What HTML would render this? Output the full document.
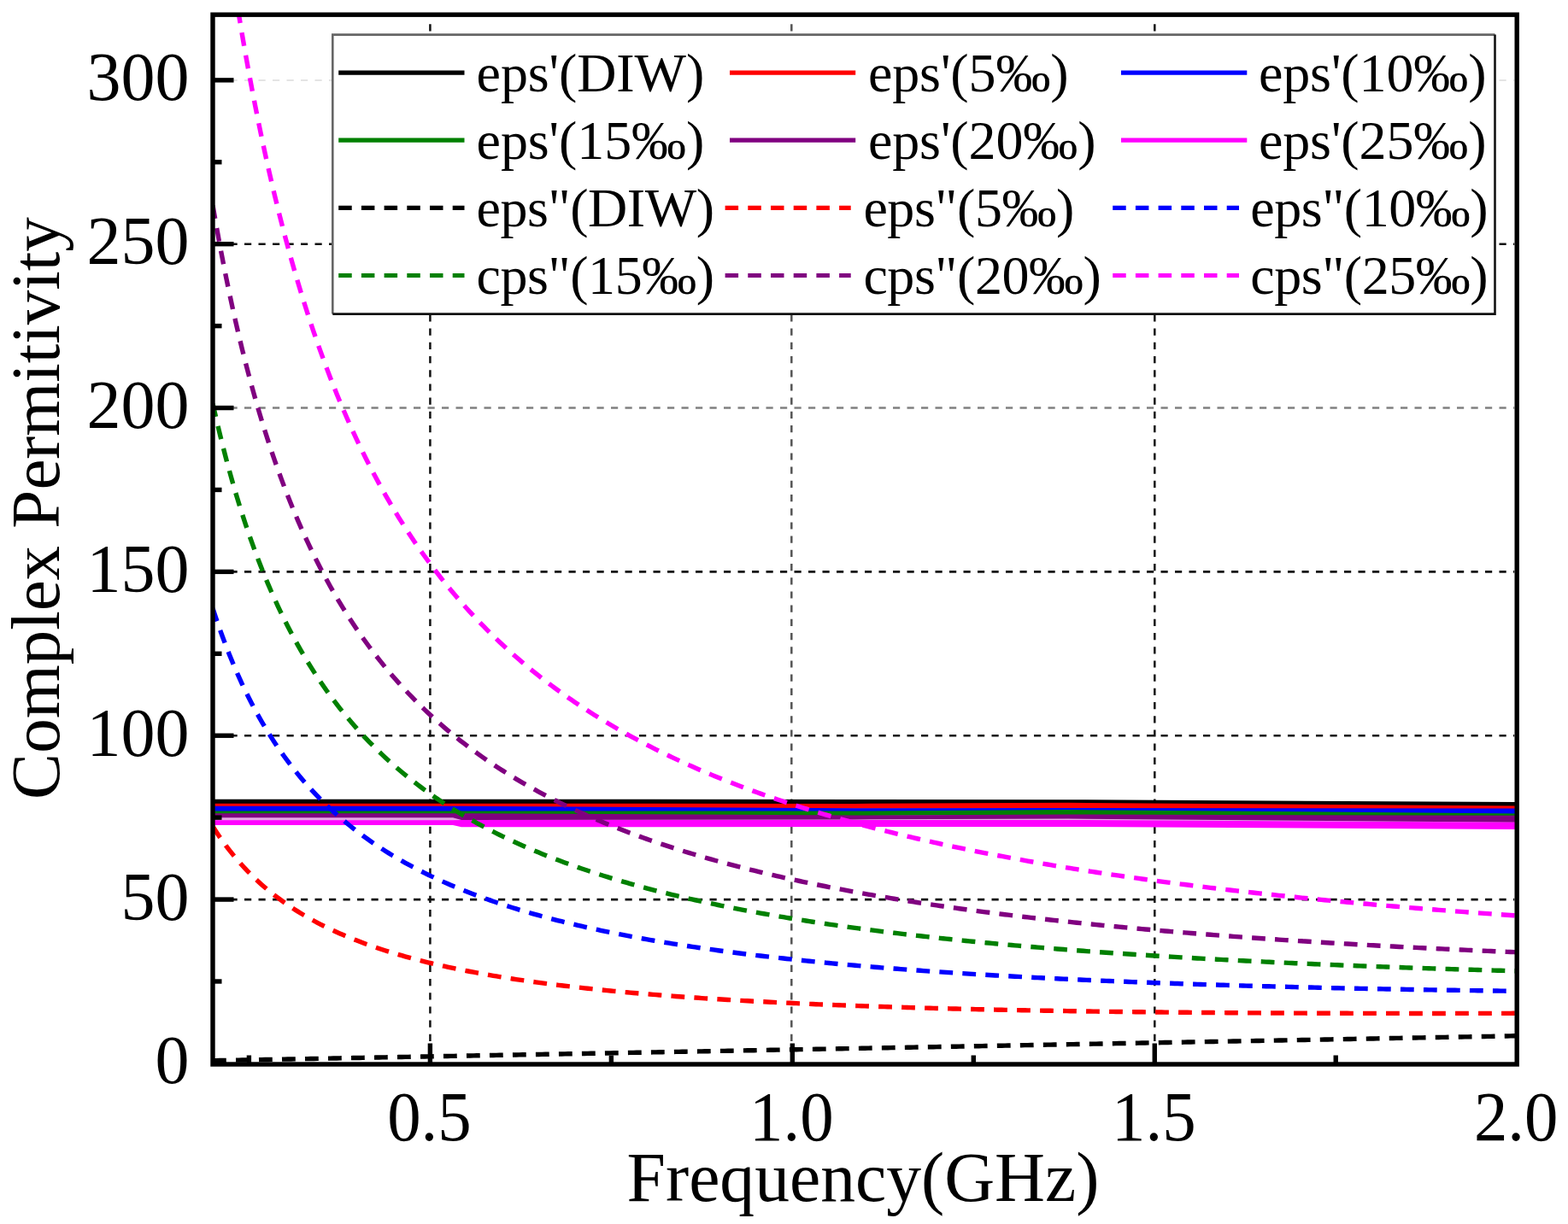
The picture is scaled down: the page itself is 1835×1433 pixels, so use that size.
<!DOCTYPE html><html><head><meta charset="utf-8"><title>Complex Permitivity</title>
<style>html,body{margin:0;padding:0;background:#fff;}svg{display:block;}text{font-family:"Liberation Serif", "Times New Roman", serif;fill:#000;}</style></head><body>
<svg width="1835" height="1433" viewBox="0 0 1835 1433">
<rect x="0" y="0" width="1835" height="1433" fill="#fff"/>
<defs><clipPath id="pc"><rect x="249.0" y="17.2" width="1526.2" height="1228.8"/></clipPath></defs>
<line x1="253.0" y1="1053.1" x2="1772.2" y2="1053.1" stroke="#111" stroke-width="2.6" stroke-dasharray="8.2 8.3"/>
<line x1="253.0" y1="861.2" x2="1772.2" y2="861.2" stroke="#111" stroke-width="2.6" stroke-dasharray="8.2 8.3"/>
<line x1="253.0" y1="669.4" x2="1772.2" y2="669.4" stroke="#111" stroke-width="2.6" stroke-dasharray="8.2 8.3"/>
<line x1="253.0" y1="477.5" x2="1772.2" y2="477.5" stroke="#808080" stroke-width="2.3" stroke-dasharray="8.2 8.3"/>
<line x1="253.0" y1="285.7" x2="1772.2" y2="285.7" stroke="#111" stroke-width="2.6" stroke-dasharray="8.2 8.3"/>
<line x1="253.0" y1="93.9" x2="1772.2" y2="93.9" stroke="#e4e4e4" stroke-width="2.0" stroke-dasharray="8.2 8.3"/>
<line x1="503.4" y1="28.2" x2="503.4" y2="1243.0" stroke="#111" stroke-width="2.5" stroke-dasharray="8.2 8.0"/>
<line x1="926.3" y1="28.2" x2="926.3" y2="1243.0" stroke="#555" stroke-width="2.5" stroke-dasharray="8.2 8.0"/>
<line x1="1351.3" y1="28.2" x2="1351.3" y2="1243.0" stroke="#111" stroke-width="2.5" stroke-dasharray="8.2 8.0"/>
<g clip-path="url(#pc)" fill="none" stroke-width="5.4">
<polygon points="249.0,935.7 530.0,935.7 540.0,935.7 1000.0,936.0 1250.0,936.2 1775.2,939.0 1775.2,944.5 1250.0,941.7 1000.0,941.5 540.0,941.2 530.0,941.2 249.0,941.2" fill="#000000" stroke="none"/>
<polygon points="249.0,940.7 530.0,940.7 540.0,940.7 1000.0,940.9 1250.0,939.8 1775.2,943.4 1775.2,948.9 1250.0,946.4 1000.0,946.7 540.0,946.2 530.0,946.2 249.0,946.2" fill="#ff0000" stroke="none"/>
<polygon points="249.0,943.7 530.0,943.7 540.0,943.7 1000.0,946.3 1250.0,946.0 1775.2,946.6 1775.2,952.9 1250.0,951.5 1000.0,951.8 540.0,950.0 530.0,950.0 249.0,950.0" fill="#0000ff" stroke="none"/>
<polygon points="249.0,949.6 530.0,949.6 540.0,949.6 1000.0,949.6 1250.0,948.0 1775.2,952.5 1775.2,958.0 1250.0,953.9 1000.0,955.1 540.0,955.1 530.0,955.1 249.0,955.1" fill="#008000" stroke="none"/>
<polygon points="249.0,954.2 530.0,954.2 540.0,954.2 1000.0,956.5 1250.0,955.5 1775.2,956.7 1775.2,964.8 1250.0,962.0 1000.0,962.0 540.0,961.9 530.0,962.3 249.0,962.3" fill="#e8a6e8" stroke="none"/>
<polygon points="249.0,952.2 530.0,952.2 540.0,952.2 1000.0,954.5 1250.0,953.5 1775.2,954.7 1775.2,962.8 1250.0,958.5 1000.0,959.4 540.0,959.9 530.0,957.3 249.0,957.3" fill="#800080" stroke="none"/>
<polygon points="249.0,960.3 530.0,960.3 540.0,959.9 1000.0,960.0 1250.0,960.0 1775.2,962.8 1775.2,970.9 1250.0,968.0 1000.0,968.1 540.0,968.2 530.0,966.0 249.0,966.0" fill="#ff00ff" stroke="none"/>
<polyline points="249.00,1241.68 252.82,1241.61 256.63,1241.54 260.45,1241.47 264.26,1241.40 268.08,1241.32 271.89,1241.25 275.71,1241.18 279.52,1241.11 283.34,1241.03 287.15,1240.96 290.97,1240.89 294.79,1240.82 298.60,1240.74 302.42,1240.67 306.23,1240.60 310.05,1240.53 313.86,1240.45 317.68,1240.38 321.49,1240.31 325.31,1240.24 329.13,1240.17 332.94,1240.09 336.76,1240.02 340.57,1239.95 344.39,1239.88 348.20,1239.80 352.02,1239.73 355.83,1239.66 359.65,1239.59 363.47,1239.51 367.28,1239.44 371.10,1239.37 374.91,1239.30 378.73,1239.23 382.54,1239.15 386.36,1239.08 390.17,1239.01 393.99,1238.94 397.80,1238.86 401.62,1238.79 405.44,1238.72 409.25,1238.65 413.07,1238.57 416.88,1238.50 420.70,1238.43 424.51,1238.36 428.33,1238.28 432.14,1238.21 435.96,1238.14 439.78,1238.07 443.59,1238.00 447.41,1237.92 451.22,1237.85 455.04,1237.78 458.85,1237.71 462.67,1237.63 466.48,1237.56 470.30,1237.49 474.11,1237.42 477.93,1237.34 481.75,1237.27 485.56,1237.20 489.38,1237.13 493.19,1237.05 497.01,1236.98 500.82,1236.91 504.64,1236.84 508.45,1236.77 512.27,1236.69 516.09,1236.62 519.90,1236.55 523.72,1236.48 527.53,1236.40 531.35,1236.33 535.16,1236.26 538.98,1236.19 542.79,1236.11 546.61,1236.04 550.42,1235.97 554.24,1235.90 558.06,1235.82 561.87,1235.75 565.69,1235.68 569.50,1235.61 573.32,1235.54 577.13,1235.46 580.95,1235.39 584.76,1235.32 588.58,1235.25 592.39,1235.17 596.21,1235.10 600.03,1235.03 603.84,1234.96 607.66,1234.88 611.47,1234.81 615.29,1234.74 619.10,1234.67 622.92,1234.60 626.73,1234.52 630.55,1234.45 634.37,1234.38 638.18,1234.31 642.00,1234.23 645.81,1234.16 649.63,1234.09 653.44,1234.02 657.26,1233.94 661.07,1233.87 664.89,1233.80 668.71,1233.73 672.52,1233.65 676.34,1233.58 680.15,1233.51 683.97,1233.44 687.78,1233.37 691.60,1233.29 695.41,1233.22 699.23,1233.15 703.04,1233.08 706.86,1233.00 710.68,1232.93 714.49,1232.86 718.31,1232.79 722.12,1232.71 725.94,1232.64 729.75,1232.57 733.57,1232.50 737.38,1232.42 741.20,1232.35 745.01,1232.28 748.83,1232.21 752.65,1232.14 756.46,1232.06 760.28,1231.99 764.09,1231.92 767.91,1231.85 771.72,1231.77 775.54,1231.70 779.35,1231.63 783.17,1231.56 786.99,1231.48 790.80,1231.41 794.62,1231.34 798.43,1231.27 802.25,1231.20 806.06,1231.12 809.88,1231.05 813.69,1230.98 817.51,1230.91 821.33,1230.83 825.14,1230.76 828.96,1230.69 832.77,1230.62 836.59,1230.54 840.40,1230.47 844.22,1230.40 848.03,1230.33 851.85,1230.25 855.66,1230.18 859.48,1230.11 863.30,1230.04 867.11,1229.97 870.93,1229.89 874.74,1229.82 878.56,1229.75 882.37,1229.68 886.19,1229.60 890.00,1229.53 893.82,1229.46 897.64,1229.39 901.45,1229.31 905.27,1229.24 909.08,1229.17 912.90,1229.10 916.71,1229.02 920.53,1228.95 924.34,1228.88 928.16,1228.81 931.97,1228.74 935.79,1228.66 939.61,1228.59 943.42,1228.52 947.24,1228.45 951.05,1228.37 954.87,1228.30 958.68,1228.23 962.50,1228.16 966.31,1228.08 970.13,1228.01 973.94,1227.94 977.76,1227.87 981.58,1227.79 985.39,1227.72 989.21,1227.65 993.02,1227.58 996.84,1227.51 1000.65,1227.43 1004.47,1227.36 1008.28,1227.29 1012.10,1227.22 1015.92,1227.14 1019.73,1227.07 1023.55,1227.00 1027.36,1226.93 1031.18,1226.85 1034.99,1226.78 1038.81,1226.71 1042.62,1226.64 1046.44,1226.57 1050.26,1226.49 1054.07,1226.42 1057.89,1226.35 1061.70,1226.28 1065.52,1226.20 1069.33,1226.13 1073.15,1226.06 1076.96,1225.99 1080.78,1225.91 1084.59,1225.84 1088.41,1225.77 1092.23,1225.70 1096.04,1225.62 1099.86,1225.55 1103.67,1225.48 1107.49,1225.41 1111.30,1225.34 1115.12,1225.26 1118.93,1225.19 1122.75,1225.12 1126.57,1225.05 1130.38,1224.97 1134.20,1224.90 1138.01,1224.83 1141.83,1224.76 1145.64,1224.68 1149.46,1224.61 1153.27,1224.54 1157.09,1224.47 1160.90,1224.39 1164.72,1224.32 1168.54,1224.25 1172.35,1224.18 1176.17,1224.11 1179.98,1224.03 1183.80,1223.96 1187.61,1223.89 1191.43,1223.82 1195.24,1223.74 1199.06,1223.67 1202.88,1223.60 1206.69,1223.53 1210.51,1223.45 1214.32,1223.38 1218.14,1223.31 1221.95,1223.24 1225.77,1223.16 1229.58,1223.09 1233.40,1223.02 1237.21,1222.95 1241.03,1222.88 1244.85,1222.80 1248.66,1222.73 1252.48,1222.66 1256.29,1222.59 1260.11,1222.51 1263.92,1222.44 1267.74,1222.37 1271.55,1222.30 1275.37,1222.22 1279.19,1222.15 1283.00,1222.08 1286.82,1222.01 1290.63,1221.94 1294.45,1221.86 1298.26,1221.79 1302.08,1221.72 1305.89,1221.65 1309.71,1221.57 1313.52,1221.50 1317.34,1221.43 1321.16,1221.36 1324.97,1221.28 1328.79,1221.21 1332.60,1221.14 1336.42,1221.07 1340.23,1220.99 1344.05,1220.92 1347.86,1220.85 1351.68,1220.78 1355.49,1220.71 1359.31,1220.63 1363.13,1220.56 1366.94,1220.49 1370.76,1220.42 1374.57,1220.34 1378.39,1220.27 1382.20,1220.20 1386.02,1220.13 1389.83,1220.05 1393.65,1219.98 1397.47,1219.91 1401.28,1219.84 1405.10,1219.76 1408.91,1219.69 1412.73,1219.62 1416.54,1219.55 1420.36,1219.48 1424.17,1219.40 1427.99,1219.33 1431.81,1219.26 1435.62,1219.19 1439.44,1219.11 1443.25,1219.04 1447.07,1218.97 1450.88,1218.90 1454.70,1218.82 1458.51,1218.75 1462.33,1218.68 1466.14,1218.61 1469.96,1218.54 1473.78,1218.46 1477.59,1218.39 1481.41,1218.32 1485.22,1218.25 1489.04,1218.17 1492.85,1218.10 1496.67,1218.03 1500.48,1217.96 1504.30,1217.88 1508.12,1217.81 1511.93,1217.74 1515.75,1217.67 1519.56,1217.59 1523.38,1217.52 1527.19,1217.45 1531.01,1217.38 1534.82,1217.31 1538.64,1217.23 1542.45,1217.16 1546.27,1217.09 1550.09,1217.02 1553.90,1216.94 1557.72,1216.87 1561.53,1216.80 1565.35,1216.73 1569.16,1216.65 1572.98,1216.58 1576.79,1216.51 1580.61,1216.44 1584.42,1216.36 1588.24,1216.29 1592.06,1216.22 1595.87,1216.15 1599.69,1216.08 1603.50,1216.00 1607.32,1215.93 1611.13,1215.86 1614.95,1215.79 1618.76,1215.71 1622.58,1215.64 1626.40,1215.57 1630.21,1215.50 1634.03,1215.42 1637.84,1215.35 1641.66,1215.28 1645.47,1215.21 1649.29,1215.13 1653.10,1215.06 1656.92,1214.99 1660.74,1214.92 1664.55,1214.85 1668.37,1214.77 1672.18,1214.70 1676.00,1214.63 1679.81,1214.56 1683.63,1214.48 1687.44,1214.41 1691.26,1214.34 1695.07,1214.27 1698.89,1214.19 1702.71,1214.12 1706.52,1214.05 1710.34,1213.98 1714.15,1213.91 1717.97,1213.83 1721.78,1213.76 1725.60,1213.69 1729.41,1213.62 1733.23,1213.54 1737.04,1213.47 1740.86,1213.40 1744.68,1213.33 1748.49,1213.25 1752.31,1213.18 1756.12,1213.11 1759.94,1213.04 1763.75,1212.96 1767.57,1212.89 1771.38,1212.82 1775.20,1212.75" stroke="#000000" stroke-dasharray="15.8 11.2"/>
<polyline points="249.00,967.45 252.82,973.42 256.63,979.13 260.45,984.59 264.26,989.82 268.08,994.84 271.89,999.66 275.71,1004.29 279.52,1008.74 283.34,1013.02 287.15,1017.14 290.97,1021.11 294.79,1024.93 298.60,1028.62 302.42,1032.19 306.23,1035.63 310.05,1038.95 313.86,1042.16 317.68,1045.27 321.49,1048.28 325.31,1051.19 329.13,1054.01 332.94,1056.74 336.76,1059.39 340.57,1061.97 344.39,1064.46 348.20,1066.88 352.02,1069.23 355.83,1071.52 359.65,1073.74 363.47,1075.90 367.28,1078.00 371.10,1080.05 374.91,1082.04 378.73,1083.97 382.54,1085.86 386.36,1087.70 390.17,1089.49 393.99,1091.23 397.80,1092.94 401.62,1094.60 405.44,1096.22 409.25,1097.80 413.07,1099.34 416.88,1100.85 420.70,1102.32 424.51,1103.75 428.33,1105.16 432.14,1106.53 435.96,1107.87 439.78,1109.18 443.59,1110.47 447.41,1111.72 451.22,1112.95 455.04,1114.15 458.85,1115.32 462.67,1116.47 466.48,1117.60 470.30,1118.70 474.11,1119.78 477.93,1120.84 481.75,1121.88 485.56,1122.90 489.38,1123.89 493.19,1124.87 497.01,1125.82 500.82,1126.76 504.64,1127.68 508.45,1128.59 512.27,1129.47 516.09,1130.34 519.90,1131.19 523.72,1132.03 527.53,1132.85 531.35,1133.66 535.16,1134.45 538.98,1135.23 542.79,1135.99 546.61,1136.74 550.42,1137.48 554.24,1138.20 558.06,1138.91 561.87,1139.61 565.69,1140.30 569.50,1140.97 573.32,1141.64 577.13,1142.29 580.95,1142.93 584.76,1143.56 588.58,1144.18 592.39,1144.79 596.21,1145.39 600.03,1145.98 603.84,1146.56 607.66,1147.13 611.47,1147.69 615.29,1148.24 619.10,1148.79 622.92,1149.32 626.73,1149.85 630.55,1150.37 634.37,1150.88 638.18,1151.38 642.00,1151.87 645.81,1152.36 649.63,1152.84 653.44,1153.31 657.26,1153.78 661.07,1154.23 664.89,1154.69 668.71,1155.13 672.52,1155.57 676.34,1156.00 680.15,1156.42 683.97,1156.84 687.78,1157.25 691.60,1157.66 695.41,1158.06 699.23,1158.46 703.04,1158.85 706.86,1159.23 710.68,1159.61 714.49,1159.98 718.31,1160.35 722.12,1160.71 725.94,1161.07 729.75,1161.42 733.57,1161.77 737.38,1162.11 741.20,1162.45 745.01,1162.78 748.83,1163.11 752.65,1163.43 756.46,1163.75 760.28,1164.06 764.09,1164.38 767.91,1164.68 771.72,1164.98 775.54,1165.28 779.35,1165.58 783.17,1165.87 786.99,1166.15 790.80,1166.44 794.62,1166.71 798.43,1166.99 802.25,1167.26 806.06,1167.53 809.88,1167.79 813.69,1168.05 817.51,1168.31 821.33,1168.57 825.14,1168.82 828.96,1169.06 832.77,1169.31 836.59,1169.55 840.40,1169.79 844.22,1170.02 848.03,1170.25 851.85,1170.48 855.66,1170.71 859.48,1170.93 863.30,1171.15 867.11,1171.37 870.93,1171.58 874.74,1171.80 878.56,1172.00 882.37,1172.21 886.19,1172.42 890.00,1172.62 893.82,1172.82 897.64,1173.01 901.45,1173.21 905.27,1173.40 909.08,1173.59 912.90,1173.77 916.71,1173.96 920.53,1174.14 924.34,1174.32 928.16,1174.50 931.97,1174.67 935.79,1174.84 939.61,1175.01 943.42,1175.18 947.24,1175.35 951.05,1175.51 954.87,1175.68 958.68,1175.84 962.50,1176.00 966.31,1176.15 970.13,1176.31 973.94,1176.46 977.76,1176.61 981.58,1176.76 985.39,1176.91 989.21,1177.05 993.02,1177.20 996.84,1177.34 1000.65,1177.48 1004.47,1177.62 1008.28,1177.75 1012.10,1177.89 1015.92,1178.02 1019.73,1178.15 1023.55,1178.28 1027.36,1178.41 1031.18,1178.54 1034.99,1178.66 1038.81,1178.78 1042.62,1178.91 1046.44,1179.03 1050.26,1179.15 1054.07,1179.26 1057.89,1179.38 1061.70,1179.49 1065.52,1179.61 1069.33,1179.72 1073.15,1179.83 1076.96,1179.94 1080.78,1180.05 1084.59,1180.15 1088.41,1180.26 1092.23,1180.36 1096.04,1180.46 1099.86,1180.56 1103.67,1180.66 1107.49,1180.76 1111.30,1180.86 1115.12,1180.96 1118.93,1181.05 1122.75,1181.14 1126.57,1181.24 1130.38,1181.33 1134.20,1181.42 1138.01,1181.51 1141.83,1181.59 1145.64,1181.68 1149.46,1181.77 1153.27,1181.85 1157.09,1181.93 1160.90,1182.02 1164.72,1182.10 1168.54,1182.18 1172.35,1182.26 1176.17,1182.33 1179.98,1182.41 1183.80,1182.49 1187.61,1182.56 1191.43,1182.64 1195.24,1182.71 1199.06,1182.78 1202.88,1182.85 1206.69,1182.92 1210.51,1182.99 1214.32,1183.06 1218.14,1183.13 1221.95,1183.19 1225.77,1183.26 1229.58,1183.32 1233.40,1183.39 1237.21,1183.45 1241.03,1183.51 1244.85,1183.57 1248.66,1183.63 1252.48,1183.69 1256.29,1183.75 1260.11,1183.81 1263.92,1183.86 1267.74,1183.92 1271.55,1183.98 1275.37,1184.03 1279.19,1184.08 1283.00,1184.14 1286.82,1184.19 1290.63,1184.24 1294.45,1184.29 1298.26,1184.34 1302.08,1184.39 1305.89,1184.44 1309.71,1184.48 1313.52,1184.53 1317.34,1184.58 1321.16,1184.62 1324.97,1184.67 1328.79,1184.71 1332.60,1184.75 1336.42,1184.80 1340.23,1184.84 1344.05,1184.88 1347.86,1184.92 1351.68,1184.96 1355.49,1185.00 1359.31,1185.04 1363.13,1185.08 1366.94,1185.11 1370.76,1185.15 1374.57,1185.19 1378.39,1185.22 1382.20,1185.26 1386.02,1185.29 1389.83,1185.32 1393.65,1185.36 1397.47,1185.39 1401.28,1185.42 1405.10,1185.45 1408.91,1185.48 1412.73,1185.51 1416.54,1185.54 1420.36,1185.57 1424.17,1185.60 1427.99,1185.63 1431.81,1185.66 1435.62,1185.68 1439.44,1185.71 1443.25,1185.73 1447.07,1185.76 1450.88,1185.78 1454.70,1185.81 1458.51,1185.83 1462.33,1185.85 1466.14,1185.88 1469.96,1185.90 1473.78,1185.92 1477.59,1185.94 1481.41,1185.96 1485.22,1185.98 1489.04,1186.00 1492.85,1186.02 1496.67,1186.04 1500.48,1186.06 1504.30,1186.07 1508.12,1186.09 1511.93,1186.11 1515.75,1186.12 1519.56,1186.14 1523.38,1186.15 1527.19,1186.17 1531.01,1186.18 1534.82,1186.20 1538.64,1186.21 1542.45,1186.22 1546.27,1186.24 1550.09,1186.25 1553.90,1186.26 1557.72,1186.27 1561.53,1186.28 1565.35,1186.29 1569.16,1186.30 1572.98,1186.31 1576.79,1186.32 1580.61,1186.33 1584.42,1186.34 1588.24,1186.35 1592.06,1186.36 1595.87,1186.36 1599.69,1186.37 1603.50,1186.38 1607.32,1186.38 1611.13,1186.39 1614.95,1186.39 1618.76,1186.40 1622.58,1186.40 1626.40,1186.41 1630.21,1186.41 1634.03,1186.41 1637.84,1186.42 1641.66,1186.42 1645.47,1186.42 1649.29,1186.43 1653.10,1186.43 1656.92,1186.43 1660.74,1186.43 1664.55,1186.43 1668.37,1186.43 1672.18,1186.43 1676.00,1186.43 1679.81,1186.43 1683.63,1186.43 1687.44,1186.43 1691.26,1186.43 1695.07,1186.42 1698.89,1186.42 1702.71,1186.42 1706.52,1186.42 1710.34,1186.41 1714.15,1186.41 1717.97,1186.41 1721.78,1186.40 1725.60,1186.40 1729.41,1186.39 1733.23,1186.39 1737.04,1186.38 1740.86,1186.38 1744.68,1186.37 1748.49,1186.36 1752.31,1186.36 1756.12,1186.35 1759.94,1186.34 1763.75,1186.34 1767.57,1186.33 1771.38,1186.32 1775.20,1186.31" stroke="#ff0000" stroke-dasharray="15.8 11.2"/>
<polyline points="249.00,712.26 252.82,723.84 256.63,734.92 260.45,745.53 264.26,755.69 268.08,765.45 271.89,774.81 275.71,783.81 279.52,792.46 283.34,800.78 287.15,808.80 290.97,816.52 294.79,823.97 298.60,831.16 302.42,838.10 306.23,844.80 310.05,851.28 313.86,857.54 317.68,863.61 321.49,869.47 325.31,875.16 329.13,880.67 332.94,886.01 336.76,891.19 340.57,896.21 344.39,901.09 348.20,905.83 352.02,910.44 355.83,914.91 359.65,919.27 363.47,923.50 367.28,927.62 371.10,931.63 374.91,935.53 378.73,939.33 382.54,943.04 386.36,946.65 390.17,950.17 393.99,953.60 397.80,956.95 401.62,960.22 405.44,963.41 409.25,966.53 413.07,969.57 416.88,972.54 420.70,975.44 424.51,978.28 428.33,981.05 432.14,983.77 435.96,986.42 439.78,989.02 443.59,991.55 447.41,994.04 451.22,996.47 455.04,998.86 458.85,1001.19 462.67,1003.47 466.48,1005.71 470.30,1007.90 474.11,1010.05 477.93,1012.16 481.75,1014.23 485.56,1016.25 489.38,1018.24 493.19,1020.19 497.01,1022.10 500.82,1023.97 504.64,1025.81 508.45,1027.62 512.27,1029.39 516.09,1031.14 519.90,1032.85 523.72,1034.53 527.53,1036.18 531.35,1037.80 535.16,1039.39 538.98,1040.95 542.79,1042.49 546.61,1044.00 550.42,1045.49 554.24,1046.95 558.06,1048.38 561.87,1049.80 565.69,1051.19 569.50,1052.55 573.32,1053.90 577.13,1055.22 580.95,1056.52 584.76,1057.80 588.58,1059.06 592.39,1060.30 596.21,1061.52 600.03,1062.73 603.84,1063.91 607.66,1065.07 611.47,1066.22 615.29,1067.35 619.10,1068.47 622.92,1069.56 626.73,1070.64 630.55,1071.71 634.37,1072.76 638.18,1073.79 642.00,1074.81 645.81,1075.81 649.63,1076.80 653.44,1077.78 657.26,1078.74 661.07,1079.69 664.89,1080.62 668.71,1081.55 672.52,1082.45 676.34,1083.35 680.15,1084.24 683.97,1085.11 687.78,1085.97 691.60,1086.82 695.41,1087.65 699.23,1088.48 703.04,1089.30 706.86,1090.10 710.68,1090.89 714.49,1091.68 718.31,1092.45 722.12,1093.21 725.94,1093.97 729.75,1094.71 733.57,1095.44 737.38,1096.17 741.20,1096.89 745.01,1097.59 748.83,1098.29 752.65,1098.98 756.46,1099.66 760.28,1100.33 764.09,1101.00 767.91,1101.65 771.72,1102.30 775.54,1102.94 779.35,1103.57 783.17,1104.19 786.99,1104.81 790.80,1105.42 794.62,1106.02 798.43,1106.62 802.25,1107.21 806.06,1107.79 809.88,1108.36 813.69,1108.93 817.51,1109.49 821.33,1110.04 825.14,1110.59 828.96,1111.13 832.77,1111.67 836.59,1112.20 840.40,1112.72 844.22,1113.24 848.03,1113.75 851.85,1114.26 855.66,1114.76 859.48,1115.25 863.30,1115.74 867.11,1116.23 870.93,1116.70 874.74,1117.18 878.56,1117.65 882.37,1118.11 886.19,1118.57 890.00,1119.02 893.82,1119.47 897.64,1119.91 901.45,1120.35 905.27,1120.78 909.08,1121.21 912.90,1121.63 916.71,1122.05 920.53,1122.47 924.34,1122.88 928.16,1123.29 931.97,1123.69 935.79,1124.09 939.61,1124.48 943.42,1124.87 947.24,1125.26 951.05,1125.64 954.87,1126.02 958.68,1126.39 962.50,1126.76 966.31,1127.13 970.13,1127.49 973.94,1127.85 977.76,1128.20 981.58,1128.55 985.39,1128.90 989.21,1129.25 993.02,1129.59 996.84,1129.93 1000.65,1130.26 1004.47,1130.59 1008.28,1130.92 1012.10,1131.24 1015.92,1131.56 1019.73,1131.88 1023.55,1132.20 1027.36,1132.51 1031.18,1132.82 1034.99,1133.12 1038.81,1133.42 1042.62,1133.72 1046.44,1134.02 1050.26,1134.31 1054.07,1134.61 1057.89,1134.89 1061.70,1135.18 1065.52,1135.46 1069.33,1135.74 1073.15,1136.02 1076.96,1136.29 1080.78,1136.57 1084.59,1136.83 1088.41,1137.10 1092.23,1137.37 1096.04,1137.63 1099.86,1137.89 1103.67,1138.14 1107.49,1138.40 1111.30,1138.65 1115.12,1138.90 1118.93,1139.14 1122.75,1139.39 1126.57,1139.63 1130.38,1139.87 1134.20,1140.11 1138.01,1140.35 1141.83,1140.58 1145.64,1140.81 1149.46,1141.04 1153.27,1141.27 1157.09,1141.49 1160.90,1141.71 1164.72,1141.94 1168.54,1142.15 1172.35,1142.37 1176.17,1142.59 1179.98,1142.80 1183.80,1143.01 1187.61,1143.22 1191.43,1143.42 1195.24,1143.63 1199.06,1143.83 1202.88,1144.03 1206.69,1144.23 1210.51,1144.43 1214.32,1144.63 1218.14,1144.82 1221.95,1145.01 1225.77,1145.20 1229.58,1145.39 1233.40,1145.58 1237.21,1145.76 1241.03,1145.95 1244.85,1146.13 1248.66,1146.31 1252.48,1146.49 1256.29,1146.67 1260.11,1146.84 1263.92,1147.01 1267.74,1147.19 1271.55,1147.36 1275.37,1147.53 1279.19,1147.69 1283.00,1147.86 1286.82,1148.03 1290.63,1148.19 1294.45,1148.35 1298.26,1148.51 1302.08,1148.67 1305.89,1148.83 1309.71,1148.98 1313.52,1149.14 1317.34,1149.29 1321.16,1149.44 1324.97,1149.59 1328.79,1149.74 1332.60,1149.89 1336.42,1150.03 1340.23,1150.18 1344.05,1150.32 1347.86,1150.47 1351.68,1150.61 1355.49,1150.75 1359.31,1150.89 1363.13,1151.02 1366.94,1151.16 1370.76,1151.29 1374.57,1151.43 1378.39,1151.56 1382.20,1151.69 1386.02,1151.82 1389.83,1151.95 1393.65,1152.08 1397.47,1152.21 1401.28,1152.33 1405.10,1152.45 1408.91,1152.58 1412.73,1152.70 1416.54,1152.82 1420.36,1152.94 1424.17,1153.06 1427.99,1153.18 1431.81,1153.29 1435.62,1153.41 1439.44,1153.52 1443.25,1153.64 1447.07,1153.75 1450.88,1153.86 1454.70,1153.97 1458.51,1154.08 1462.33,1154.19 1466.14,1154.30 1469.96,1154.40 1473.78,1154.51 1477.59,1154.62 1481.41,1154.72 1485.22,1154.82 1489.04,1154.92 1492.85,1155.02 1496.67,1155.12 1500.48,1155.22 1504.30,1155.32 1508.12,1155.42 1511.93,1155.51 1515.75,1155.61 1519.56,1155.70 1523.38,1155.80 1527.19,1155.89 1531.01,1155.98 1534.82,1156.07 1538.64,1156.16 1542.45,1156.25 1546.27,1156.34 1550.09,1156.43 1553.90,1156.52 1557.72,1156.60 1561.53,1156.69 1565.35,1156.77 1569.16,1156.86 1572.98,1156.94 1576.79,1157.02 1580.61,1157.10 1584.42,1157.18 1588.24,1157.26 1592.06,1157.34 1595.87,1157.42 1599.69,1157.50 1603.50,1157.57 1607.32,1157.65 1611.13,1157.72 1614.95,1157.80 1618.76,1157.87 1622.58,1157.95 1626.40,1158.02 1630.21,1158.09 1634.03,1158.16 1637.84,1158.23 1641.66,1158.30 1645.47,1158.37 1649.29,1158.44 1653.10,1158.51 1656.92,1158.57 1660.74,1158.64 1664.55,1158.70 1668.37,1158.77 1672.18,1158.83 1676.00,1158.90 1679.81,1158.96 1683.63,1159.02 1687.44,1159.08 1691.26,1159.14 1695.07,1159.20 1698.89,1159.26 1702.71,1159.32 1706.52,1159.38 1710.34,1159.44 1714.15,1159.50 1717.97,1159.55 1721.78,1159.61 1725.60,1159.67 1729.41,1159.72 1733.23,1159.78 1737.04,1159.83 1740.86,1159.88 1744.68,1159.94 1748.49,1159.99 1752.31,1160.04 1756.12,1160.09 1759.94,1160.14 1763.75,1160.19 1767.57,1160.24 1771.38,1160.29 1775.20,1160.34" stroke="#0000ff" stroke-dasharray="15.8 11.2"/>
<polyline points="249.00,472.51 252.82,489.36 256.63,505.49 260.45,520.94 264.26,535.74 268.08,549.95 271.89,563.59 275.71,576.69 279.52,589.29 283.34,601.42 287.15,613.10 290.97,624.36 294.79,635.21 298.60,645.69 302.42,655.80 306.23,665.57 310.05,675.02 313.86,684.15 317.68,692.99 321.49,701.55 325.31,709.85 329.13,717.88 332.94,725.67 336.76,733.23 340.57,740.57 344.39,747.69 348.20,754.61 352.02,761.34 355.83,767.87 359.65,774.23 363.47,780.41 367.28,786.43 371.10,792.29 374.91,797.99 378.73,803.55 382.54,808.97 386.36,814.25 390.17,819.39 393.99,824.42 397.80,829.32 401.62,834.10 405.44,838.77 409.25,843.32 413.07,847.78 416.88,852.13 420.70,856.38 424.51,860.54 428.33,864.60 432.14,868.57 435.96,872.46 439.78,876.27 443.59,879.99 447.41,883.63 451.22,887.20 455.04,890.70 458.85,894.12 462.67,897.47 466.48,900.76 470.30,903.98 474.11,907.13 477.93,910.23 481.75,913.26 485.56,916.24 489.38,919.16 493.19,922.02 497.01,924.83 500.82,927.59 504.64,930.30 508.45,932.96 512.27,935.57 516.09,938.13 519.90,940.65 523.72,943.12 527.53,945.55 531.35,947.94 535.16,950.28 538.98,952.59 542.79,954.86 546.61,957.09 550.42,959.28 554.24,961.43 558.06,963.55 561.87,965.64 565.69,967.69 569.50,969.71 573.32,971.70 577.13,973.65 580.95,975.57 584.76,977.47 588.58,979.33 592.39,981.17 596.21,982.98 600.03,984.76 603.84,986.51 607.66,988.24 611.47,989.94 615.29,991.61 619.10,993.26 622.92,994.89 626.73,996.49 630.55,998.07 634.37,999.63 638.18,1001.17 642.00,1002.68 645.81,1004.17 649.63,1005.64 653.44,1007.09 657.26,1008.52 661.07,1009.93 664.89,1011.33 668.71,1012.70 672.52,1014.05 676.34,1015.39 680.15,1016.71 683.97,1018.01 687.78,1019.29 691.60,1020.56 695.41,1021.81 699.23,1023.04 703.04,1024.26 706.86,1025.46 710.68,1026.65 714.49,1027.82 718.31,1028.97 722.12,1030.12 725.94,1031.24 729.75,1032.36 733.57,1033.46 737.38,1034.54 741.20,1035.62 745.01,1036.68 748.83,1037.72 752.65,1038.76 756.46,1039.78 760.28,1040.79 764.09,1041.79 767.91,1042.77 771.72,1043.75 775.54,1044.71 779.35,1045.66 783.17,1046.60 786.99,1047.53 790.80,1048.45 794.62,1049.36 798.43,1050.26 802.25,1051.14 806.06,1052.02 809.88,1052.89 813.69,1053.75 817.51,1054.60 821.33,1055.43 825.14,1056.26 828.96,1057.08 832.77,1057.90 836.59,1058.70 840.40,1059.49 844.22,1060.28 848.03,1061.05 851.85,1061.82 855.66,1062.58 859.48,1063.33 863.30,1064.08 867.11,1064.81 870.93,1065.54 874.74,1066.26 878.56,1066.98 882.37,1067.68 886.19,1068.38 890.00,1069.07 893.82,1069.75 897.64,1070.43 901.45,1071.10 905.27,1071.76 909.08,1072.42 912.90,1073.07 916.71,1073.71 920.53,1074.35 924.34,1074.98 928.16,1075.61 931.97,1076.22 935.79,1076.83 939.61,1077.44 943.42,1078.04 947.24,1078.63 951.05,1079.22 954.87,1079.80 958.68,1080.38 962.50,1080.95 966.31,1081.52 970.13,1082.08 973.94,1082.63 977.76,1083.18 981.58,1083.72 985.39,1084.26 989.21,1084.80 993.02,1085.33 996.84,1085.85 1000.65,1086.37 1004.47,1086.88 1008.28,1087.39 1012.10,1087.90 1015.92,1088.40 1019.73,1088.89 1023.55,1089.38 1027.36,1089.87 1031.18,1090.35 1034.99,1090.83 1038.81,1091.30 1042.62,1091.77 1046.44,1092.23 1050.26,1092.69 1054.07,1093.15 1057.89,1093.60 1061.70,1094.05 1065.52,1094.49 1069.33,1094.93 1073.15,1095.37 1076.96,1095.80 1080.78,1096.23 1084.59,1096.65 1088.41,1097.07 1092.23,1097.49 1096.04,1097.90 1099.86,1098.31 1103.67,1098.72 1107.49,1099.12 1111.30,1099.52 1115.12,1099.92 1118.93,1100.31 1122.75,1100.70 1126.57,1101.08 1130.38,1101.46 1134.20,1101.84 1138.01,1102.22 1141.83,1102.59 1145.64,1102.96 1149.46,1103.33 1153.27,1103.69 1157.09,1104.05 1160.90,1104.41 1164.72,1104.76 1168.54,1105.11 1172.35,1105.46 1176.17,1105.81 1179.98,1106.15 1183.80,1106.49 1187.61,1106.82 1191.43,1107.16 1195.24,1107.49 1199.06,1107.82 1202.88,1108.14 1206.69,1108.47 1210.51,1108.79 1214.32,1109.10 1218.14,1109.42 1221.95,1109.73 1225.77,1110.04 1229.58,1110.35 1233.40,1110.65 1237.21,1110.96 1241.03,1111.26 1244.85,1111.55 1248.66,1111.85 1252.48,1112.14 1256.29,1112.43 1260.11,1112.72 1263.92,1113.01 1267.74,1113.29 1271.55,1113.57 1275.37,1113.85 1279.19,1114.13 1283.00,1114.40 1286.82,1114.67 1290.63,1114.94 1294.45,1115.21 1298.26,1115.48 1302.08,1115.74 1305.89,1116.00 1309.71,1116.26 1313.52,1116.52 1317.34,1116.78 1321.16,1117.03 1324.97,1117.28 1328.79,1117.53 1332.60,1117.78 1336.42,1118.03 1340.23,1118.27 1344.05,1118.51 1347.86,1118.75 1351.68,1118.99 1355.49,1119.23 1359.31,1119.46 1363.13,1119.69 1366.94,1119.92 1370.76,1120.15 1374.57,1120.38 1378.39,1120.61 1382.20,1120.83 1386.02,1121.05 1389.83,1121.27 1393.65,1121.49 1397.47,1121.71 1401.28,1121.93 1405.10,1122.14 1408.91,1122.35 1412.73,1122.56 1416.54,1122.77 1420.36,1122.98 1424.17,1123.19 1427.99,1123.39 1431.81,1123.59 1435.62,1123.79 1439.44,1123.99 1443.25,1124.19 1447.07,1124.39 1450.88,1124.58 1454.70,1124.78 1458.51,1124.97 1462.33,1125.16 1466.14,1125.35 1469.96,1125.54 1473.78,1125.73 1477.59,1125.91 1481.41,1126.09 1485.22,1126.28 1489.04,1126.46 1492.85,1126.64 1496.67,1126.82 1500.48,1126.99 1504.30,1127.17 1508.12,1127.34 1511.93,1127.52 1515.75,1127.69 1519.56,1127.86 1523.38,1128.03 1527.19,1128.20 1531.01,1128.36 1534.82,1128.53 1538.64,1128.69 1542.45,1128.86 1546.27,1129.02 1550.09,1129.18 1553.90,1129.34 1557.72,1129.50 1561.53,1129.65 1565.35,1129.81 1569.16,1129.96 1572.98,1130.12 1576.79,1130.27 1580.61,1130.42 1584.42,1130.57 1588.24,1130.72 1592.06,1130.87 1595.87,1131.01 1599.69,1131.16 1603.50,1131.31 1607.32,1131.45 1611.13,1131.59 1614.95,1131.73 1618.76,1131.87 1622.58,1132.01 1626.40,1132.15 1630.21,1132.29 1634.03,1132.43 1637.84,1132.56 1641.66,1132.69 1645.47,1132.83 1649.29,1132.96 1653.10,1133.09 1656.92,1133.22 1660.74,1133.35 1664.55,1133.48 1668.37,1133.61 1672.18,1133.73 1676.00,1133.86 1679.81,1133.98 1683.63,1134.11 1687.44,1134.23 1691.26,1134.35 1695.07,1134.47 1698.89,1134.59 1702.71,1134.71 1706.52,1134.83 1710.34,1134.95 1714.15,1135.07 1717.97,1135.18 1721.78,1135.30 1725.60,1135.41 1729.41,1135.52 1733.23,1135.64 1737.04,1135.75 1740.86,1135.86 1744.68,1135.97 1748.49,1136.08 1752.31,1136.19 1756.12,1136.29 1759.94,1136.40 1763.75,1136.50 1767.57,1136.61 1771.38,1136.71 1775.20,1136.82" stroke="#008000" stroke-dasharray="15.8 11.2"/>
<polyline points="249.00,240.50 252.82,262.47 256.63,283.49 260.45,303.62 264.26,322.92 268.08,341.43 271.89,359.21 275.71,376.29 279.52,392.72 283.34,408.53 287.15,423.76 290.97,438.44 294.79,452.59 298.60,466.25 302.42,479.44 306.23,492.18 310.05,504.50 313.86,516.42 317.68,527.95 321.49,539.12 325.31,549.94 329.13,560.42 332.94,570.59 336.76,580.45 340.57,590.03 344.39,599.32 348.20,608.36 352.02,617.13 355.83,625.66 359.65,633.96 363.47,642.03 367.28,649.89 371.10,657.54 374.91,664.99 378.73,672.25 382.54,679.32 386.36,686.22 390.17,692.95 393.99,699.51 397.80,705.91 401.62,712.16 405.44,718.26 409.25,724.22 413.07,730.04 416.88,735.73 420.70,741.28 424.51,746.72 428.33,752.03 432.14,757.23 435.96,762.32 439.78,767.29 443.59,772.16 447.41,776.93 451.22,781.60 455.04,786.17 458.85,790.65 462.67,795.04 466.48,799.34 470.30,803.55 474.11,807.69 477.93,811.74 481.75,815.71 485.56,819.61 489.38,823.43 493.19,827.19 497.01,830.87 500.82,834.48 504.64,838.03 508.45,841.52 512.27,844.94 516.09,848.30 519.90,851.60 523.72,854.84 527.53,858.03 531.35,861.16 535.16,864.24 538.98,867.27 542.79,870.24 546.61,873.17 550.42,876.05 554.24,878.88 558.06,881.66 561.87,884.40 565.69,887.09 569.50,889.74 573.32,892.35 577.13,894.92 580.95,897.45 584.76,899.94 588.58,902.39 592.39,904.80 596.21,907.18 600.03,909.52 603.84,911.83 607.66,914.10 611.47,916.34 615.29,918.54 619.10,920.72 622.92,922.86 626.73,924.97 630.55,927.05 634.37,929.10 638.18,931.12 642.00,933.12 645.81,935.08 649.63,937.02 653.44,938.93 657.26,940.82 661.07,942.68 664.89,944.52 668.71,946.33 672.52,948.11 676.34,949.88 680.15,951.62 683.97,953.33 687.78,955.03 691.60,956.70 695.41,958.35 699.23,959.98 703.04,961.59 706.86,963.18 710.68,964.75 714.49,966.29 718.31,967.82 722.12,969.33 725.94,970.83 729.75,972.30 733.57,973.76 737.38,975.19 741.20,976.62 745.01,978.02 748.83,979.41 752.65,980.78 756.46,982.13 760.28,983.47 764.09,984.79 767.91,986.10 771.72,987.39 775.54,988.67 779.35,989.93 783.17,991.18 786.99,992.41 790.80,993.63 794.62,994.84 798.43,996.03 802.25,997.21 806.06,998.38 809.88,999.53 813.69,1000.67 817.51,1001.80 821.33,1002.91 825.14,1004.02 828.96,1005.11 832.77,1006.19 836.59,1007.26 840.40,1008.32 844.22,1009.36 848.03,1010.40 851.85,1011.42 855.66,1012.43 859.48,1013.44 863.30,1014.43 867.11,1015.41 870.93,1016.38 874.74,1017.35 878.56,1018.30 882.37,1019.24 886.19,1020.17 890.00,1021.10 893.82,1022.01 897.64,1022.92 901.45,1023.81 905.27,1024.70 909.08,1025.58 912.90,1026.45 916.71,1027.31 920.53,1028.16 924.34,1029.00 928.16,1029.84 931.97,1030.67 935.79,1031.49 939.61,1032.30 943.42,1033.11 947.24,1033.90 951.05,1034.69 954.87,1035.47 958.68,1036.25 962.50,1037.02 966.31,1037.77 970.13,1038.53 973.94,1039.27 977.76,1040.01 981.58,1040.74 985.39,1041.47 989.21,1042.19 993.02,1042.90 996.84,1043.61 1000.65,1044.31 1004.47,1045.00 1008.28,1045.69 1012.10,1046.37 1015.92,1047.04 1019.73,1047.71 1023.55,1048.37 1027.36,1049.03 1031.18,1049.68 1034.99,1050.32 1038.81,1050.96 1042.62,1051.60 1046.44,1052.23 1050.26,1052.85 1054.07,1053.47 1057.89,1054.08 1061.70,1054.69 1065.52,1055.29 1069.33,1055.88 1073.15,1056.47 1076.96,1057.06 1080.78,1057.64 1084.59,1058.22 1088.41,1058.79 1092.23,1059.36 1096.04,1059.92 1099.86,1060.48 1103.67,1061.03 1107.49,1061.58 1111.30,1062.12 1115.12,1062.66 1118.93,1063.19 1122.75,1063.72 1126.57,1064.25 1130.38,1064.77 1134.20,1065.29 1138.01,1065.80 1141.83,1066.31 1145.64,1066.81 1149.46,1067.31 1153.27,1067.81 1157.09,1068.30 1160.90,1068.79 1164.72,1069.28 1168.54,1069.76 1172.35,1070.24 1176.17,1070.71 1179.98,1071.18 1183.80,1071.64 1187.61,1072.11 1191.43,1072.56 1195.24,1073.02 1199.06,1073.47 1202.88,1073.92 1206.69,1074.36 1210.51,1074.80 1214.32,1075.24 1218.14,1075.67 1221.95,1076.11 1225.77,1076.53 1229.58,1076.96 1233.40,1077.38 1237.21,1077.80 1241.03,1078.21 1244.85,1078.62 1248.66,1079.03 1252.48,1079.43 1256.29,1079.84 1260.11,1080.23 1263.92,1080.63 1267.74,1081.02 1271.55,1081.41 1275.37,1081.80 1279.19,1082.19 1283.00,1082.57 1286.82,1082.95 1290.63,1083.32 1294.45,1083.69 1298.26,1084.06 1302.08,1084.43 1305.89,1084.80 1309.71,1085.16 1313.52,1085.52 1317.34,1085.87 1321.16,1086.23 1324.97,1086.58 1328.79,1086.93 1332.60,1087.28 1336.42,1087.62 1340.23,1087.96 1344.05,1088.30 1347.86,1088.64 1351.68,1088.97 1355.49,1089.30 1359.31,1089.63 1363.13,1089.96 1366.94,1090.28 1370.76,1090.61 1374.57,1090.93 1378.39,1091.24 1382.20,1091.56 1386.02,1091.87 1389.83,1092.18 1393.65,1092.49 1397.47,1092.80 1401.28,1093.10 1405.10,1093.41 1408.91,1093.71 1412.73,1094.01 1416.54,1094.30 1420.36,1094.60 1424.17,1094.89 1427.99,1095.18 1431.81,1095.47 1435.62,1095.75 1439.44,1096.04 1443.25,1096.32 1447.07,1096.60 1450.88,1096.88 1454.70,1097.15 1458.51,1097.43 1462.33,1097.70 1466.14,1097.97 1469.96,1098.24 1473.78,1098.50 1477.59,1098.77 1481.41,1099.03 1485.22,1099.29 1489.04,1099.55 1492.85,1099.81 1496.67,1100.07 1500.48,1100.32 1504.30,1100.57 1508.12,1100.83 1511.93,1101.07 1515.75,1101.32 1519.56,1101.57 1523.38,1101.81 1527.19,1102.05 1531.01,1102.30 1534.82,1102.54 1538.64,1102.77 1542.45,1103.01 1546.27,1103.24 1550.09,1103.48 1553.90,1103.71 1557.72,1103.94 1561.53,1104.17 1565.35,1104.39 1569.16,1104.62 1572.98,1104.84 1576.79,1105.07 1580.61,1105.29 1584.42,1105.51 1588.24,1105.72 1592.06,1105.94 1595.87,1106.16 1599.69,1106.37 1603.50,1106.58 1607.32,1106.79 1611.13,1107.00 1614.95,1107.21 1618.76,1107.42 1622.58,1107.62 1626.40,1107.83 1630.21,1108.03 1634.03,1108.23 1637.84,1108.43 1641.66,1108.63 1645.47,1108.83 1649.29,1109.02 1653.10,1109.22 1656.92,1109.41 1660.74,1109.60 1664.55,1109.79 1668.37,1109.98 1672.18,1110.17 1676.00,1110.36 1679.81,1110.55 1683.63,1110.73 1687.44,1110.92 1691.26,1111.10 1695.07,1111.28 1698.89,1111.46 1702.71,1111.64 1706.52,1111.82 1710.34,1111.99 1714.15,1112.17 1717.97,1112.34 1721.78,1112.52 1725.60,1112.69 1729.41,1112.86 1733.23,1113.03 1737.04,1113.20 1740.86,1113.37 1744.68,1113.54 1748.49,1113.70 1752.31,1113.87 1756.12,1114.03 1759.94,1114.19 1763.75,1114.35 1767.57,1114.51 1771.38,1114.67 1775.20,1114.83" stroke="#800080" stroke-dasharray="15.8 11.2"/>
<polyline points="249.00,-202.49 252.82,-170.77 256.63,-140.42 260.45,-111.34 264.26,-83.47 268.08,-56.74 271.89,-31.06 275.71,-6.38 279.52,17.35 283.34,40.19 287.15,62.19 290.97,83.40 294.79,103.85 298.60,123.59 302.42,142.65 306.23,161.06 310.05,178.87 313.86,196.09 317.68,212.76 321.49,228.90 325.31,244.54 329.13,259.70 332.94,274.40 336.76,288.66 340.57,302.50 344.39,315.95 348.20,329.01 352.02,341.70 355.83,354.04 359.65,366.04 363.47,377.72 367.28,389.09 371.10,400.16 374.91,410.94 378.73,421.44 382.54,431.68 386.36,441.66 390.17,451.40 393.99,460.90 397.80,470.17 401.62,479.21 405.44,488.05 409.25,496.68 413.07,505.11 416.88,513.34 420.70,521.39 424.51,529.27 428.33,536.97 432.14,544.50 435.96,551.87 439.78,559.08 443.59,566.13 447.41,573.05 451.22,579.81 455.04,586.44 458.85,592.94 462.67,599.30 466.48,605.54 470.30,611.65 474.11,617.64 477.93,623.52 481.75,629.29 485.56,634.95 489.38,640.50 493.19,645.94 497.01,651.29 500.82,656.53 504.64,661.69 508.45,666.75 512.27,671.72 516.09,676.60 519.90,681.39 523.72,686.10 527.53,690.74 531.35,695.29 535.16,699.76 538.98,704.16 542.79,708.48 546.61,712.74 550.42,716.92 554.24,721.04 558.06,725.09 561.87,729.07 565.69,732.99 569.50,736.85 573.32,740.65 577.13,744.38 580.95,748.07 584.76,751.69 588.58,755.26 592.39,758.77 596.21,762.23 600.03,765.64 603.84,769.00 607.66,772.31 611.47,775.58 615.29,778.79 619.10,781.96 622.92,785.08 626.73,788.16 630.55,791.19 634.37,794.19 638.18,797.14 642.00,800.05 645.81,802.92 649.63,805.75 653.44,808.54 657.26,811.29 661.07,814.01 664.89,816.69 668.71,819.33 672.52,821.94 676.34,824.52 680.15,827.06 683.97,829.57 687.78,832.05 691.60,834.50 695.41,836.91 699.23,839.30 703.04,841.65 706.86,843.97 710.68,846.27 714.49,848.54 718.31,850.78 722.12,852.99 725.94,855.18 729.75,857.33 733.57,859.47 737.38,861.58 741.20,863.66 745.01,865.72 748.83,867.75 752.65,869.76 756.46,871.75 760.28,873.71 764.09,875.65 767.91,877.57 771.72,879.47 775.54,881.34 779.35,883.20 783.17,885.03 786.99,886.84 790.80,888.64 794.62,890.41 798.43,892.16 802.25,893.90 806.06,895.61 809.88,897.31 813.69,898.99 817.51,900.65 821.33,902.29 825.14,903.92 828.96,905.53 832.77,907.12 836.59,908.69 840.40,910.25 844.22,911.79 848.03,913.32 851.85,914.83 855.66,916.33 859.48,917.81 863.30,919.27 867.11,920.72 870.93,922.16 874.74,923.58 878.56,924.98 882.37,926.38 886.19,927.75 890.00,929.12 893.82,930.47 897.64,931.81 901.45,933.14 905.27,934.45 909.08,935.75 912.90,937.04 916.71,938.31 920.53,939.58 924.34,940.83 928.16,942.07 931.97,943.30 935.79,944.51 939.61,945.72 943.42,946.91 947.24,948.09 951.05,949.26 954.87,950.43 958.68,951.58 962.50,952.72 966.31,953.85 970.13,954.96 973.94,956.07 977.76,957.17 981.58,958.26 985.39,959.34 989.21,960.41 993.02,961.47 996.84,962.52 1000.65,963.57 1004.47,964.60 1008.28,965.62 1012.10,966.64 1015.92,967.64 1019.73,968.64 1023.55,969.63 1027.36,970.61 1031.18,971.58 1034.99,972.55 1038.81,973.50 1042.62,974.45 1046.44,975.39 1050.26,976.32 1054.07,977.25 1057.89,978.16 1061.70,979.07 1065.52,979.97 1069.33,980.86 1073.15,981.75 1076.96,982.63 1080.78,983.50 1084.59,984.37 1088.41,985.22 1092.23,986.07 1096.04,986.92 1099.86,987.76 1103.67,988.59 1107.49,989.41 1111.30,990.23 1115.12,991.04 1118.93,991.84 1122.75,992.64 1126.57,993.43 1130.38,994.22 1134.20,995.00 1138.01,995.77 1141.83,996.54 1145.64,997.30 1149.46,998.05 1153.27,998.80 1157.09,999.55 1160.90,1000.28 1164.72,1001.02 1168.54,1001.74 1172.35,1002.47 1176.17,1003.18 1179.98,1003.89 1183.80,1004.60 1187.61,1005.30 1191.43,1005.99 1195.24,1006.68 1199.06,1007.36 1202.88,1008.04 1206.69,1008.72 1210.51,1009.39 1214.32,1010.05 1218.14,1010.71 1221.95,1011.37 1225.77,1012.02 1229.58,1012.66 1233.40,1013.30 1237.21,1013.94 1241.03,1014.57 1244.85,1015.19 1248.66,1015.82 1252.48,1016.43 1256.29,1017.05 1260.11,1017.66 1263.92,1018.26 1267.74,1018.86 1271.55,1019.46 1275.37,1020.05 1279.19,1020.64 1283.00,1021.22 1286.82,1021.80 1290.63,1022.37 1294.45,1022.94 1298.26,1023.51 1302.08,1024.07 1305.89,1024.63 1309.71,1025.19 1313.52,1025.74 1317.34,1026.29 1321.16,1026.83 1324.97,1027.37 1328.79,1027.91 1332.60,1028.44 1336.42,1028.97 1340.23,1029.50 1344.05,1030.02 1347.86,1030.54 1351.68,1031.06 1355.49,1031.57 1359.31,1032.08 1363.13,1032.58 1366.94,1033.08 1370.76,1033.58 1374.57,1034.08 1378.39,1034.57 1382.20,1035.06 1386.02,1035.54 1389.83,1036.02 1393.65,1036.50 1397.47,1036.98 1401.28,1037.45 1405.10,1037.92 1408.91,1038.39 1412.73,1038.85 1416.54,1039.31 1420.36,1039.77 1424.17,1040.22 1427.99,1040.67 1431.81,1041.12 1435.62,1041.57 1439.44,1042.01 1443.25,1042.45 1447.07,1042.89 1450.88,1043.32 1454.70,1043.75 1458.51,1044.18 1462.33,1044.61 1466.14,1045.03 1469.96,1045.45 1473.78,1045.87 1477.59,1046.29 1481.41,1046.70 1485.22,1047.11 1489.04,1047.52 1492.85,1047.92 1496.67,1048.33 1500.48,1048.73 1504.30,1049.12 1508.12,1049.52 1511.93,1049.91 1515.75,1050.30 1519.56,1050.69 1523.38,1051.08 1527.19,1051.46 1531.01,1051.84 1534.82,1052.22 1538.64,1052.59 1542.45,1052.97 1546.27,1053.34 1550.09,1053.71 1553.90,1054.08 1557.72,1054.44 1561.53,1054.80 1565.35,1055.16 1569.16,1055.52 1572.98,1055.88 1576.79,1056.23 1580.61,1056.59 1584.42,1056.94 1588.24,1057.28 1592.06,1057.63 1595.87,1057.97 1599.69,1058.31 1603.50,1058.65 1607.32,1058.99 1611.13,1059.33 1614.95,1059.66 1618.76,1059.99 1622.58,1060.32 1626.40,1060.65 1630.21,1060.97 1634.03,1061.30 1637.84,1061.62 1641.66,1061.94 1645.47,1062.26 1649.29,1062.57 1653.10,1062.89 1656.92,1063.20 1660.74,1063.51 1664.55,1063.82 1668.37,1064.13 1672.18,1064.43 1676.00,1064.74 1679.81,1065.04 1683.63,1065.34 1687.44,1065.64 1691.26,1065.93 1695.07,1066.23 1698.89,1066.52 1702.71,1066.81 1706.52,1067.10 1710.34,1067.39 1714.15,1067.68 1717.97,1067.96 1721.78,1068.25 1725.60,1068.53 1729.41,1068.81 1733.23,1069.09 1737.04,1069.37 1740.86,1069.64 1744.68,1069.92 1748.49,1070.19 1752.31,1070.46 1756.12,1070.73 1759.94,1071.00 1763.75,1071.26 1767.57,1071.53 1771.38,1071.79 1775.20,1072.05" stroke="#ff00ff" stroke-dasharray="15.8 11.2"/>
</g>
<rect x="249.0" y="17.2" width="1526.2" height="1228.8" fill="none" stroke="#000" stroke-width="5.4"/>
<g stroke="#000" stroke-width="5.4"><line x1="249.0" y1="1148.98" x2="259.5" y2="1148.98"/><line x1="249.0" y1="1053.06" x2="273.5" y2="1053.06"/><line x1="249.0" y1="957.14" x2="259.5" y2="957.14"/><line x1="249.0" y1="861.22" x2="273.5" y2="861.22"/><line x1="249.0" y1="765.30" x2="259.5" y2="765.30"/><line x1="249.0" y1="669.38" x2="273.5" y2="669.38"/><line x1="249.0" y1="573.46" x2="259.5" y2="573.46"/><line x1="249.0" y1="477.54" x2="273.5" y2="477.54"/><line x1="249.0" y1="381.62" x2="259.5" y2="381.62"/><line x1="249.0" y1="285.70" x2="273.5" y2="285.70"/><line x1="249.0" y1="189.78" x2="259.5" y2="189.78"/><line x1="249.0" y1="93.86" x2="273.5" y2="93.86"/><line x1="291.39" y1="1246.0" x2="291.39" y2="1235.5"/><line x1="503.37" y1="1246.0" x2="503.37" y2="1221.5"/><line x1="715.34" y1="1246.0" x2="715.34" y2="1235.5"/><line x1="927.31" y1="1246.0" x2="927.31" y2="1221.5"/><line x1="1139.28" y1="1246.0" x2="1139.28" y2="1235.5"/><line x1="1351.26" y1="1246.0" x2="1351.26" y2="1221.5"/><line x1="1563.23" y1="1246.0" x2="1563.23" y2="1235.5"/></g>
<text x="221.5" y="1268.4" font-size="80" text-anchor="end">0</text>
<text x="221.5" y="1076.6" font-size="80" text-anchor="end">50</text>
<text x="221.5" y="884.7" font-size="80" text-anchor="end">100</text>
<text x="221.5" y="692.9" font-size="80" text-anchor="end">150</text>
<text x="221.5" y="501.0" font-size="80" text-anchor="end">200</text>
<text x="221.5" y="309.2" font-size="80" text-anchor="end">250</text>
<text x="221.5" y="117.4" font-size="80" text-anchor="end">300</text>
<text transform="translate(502.4,1335.3) scale(0.95,1)" x="0" y="0" font-size="83" text-anchor="middle">0.5</text>
<text transform="translate(926.3,1335.3) scale(0.95,1)" x="0" y="0" font-size="83" text-anchor="middle">1.0</text>
<text transform="translate(1350.3,1335.3) scale(0.95,1)" x="0" y="0" font-size="83" text-anchor="middle">1.5</text>
<text transform="translate(1774.2,1335.3) scale(0.95,1)" x="0" y="0" font-size="83" text-anchor="middle">2.0</text>
<text x="1010" y="1406.4" font-size="81.6" text-anchor="middle">Frequency(GHz)</text>
<text transform="translate(68.5,595) rotate(-90)" x="0" y="0" font-size="81" text-anchor="middle">Complex Permitivity</text>
<rect x="389.3" y="40.6" width="1360.2" height="327.0" fill="#fff" stroke="none"/>
<path d="M389.3,367.6 L389.3,40.6 L1749.5,40.6" fill="none" stroke="#666" stroke-width="2.6"/>
<path d="M389.3,367.6 L1749.5,367.6 L1749.5,40.6" fill="none" stroke="#111" stroke-width="2.6"/>
<line x1="396.2" y1="85.2" x2="543.5" y2="85.2" stroke="#000000" stroke-width="5.2"/>
<text x="557.6" y="107.0" font-size="64" letter-spacing="-0.1">eps&#39;(DIW)</text>
<line x1="854.0" y1="85.2" x2="1001.2" y2="85.2" stroke="#ff0000" stroke-width="5.2"/>
<text x="1015.9" y="107.0" font-size="64" letter-spacing="-0.1">eps&#39;(5‰)</text>
<line x1="1312.0" y1="85.2" x2="1459.3" y2="85.2" stroke="#0000ff" stroke-width="5.2"/>
<text x="1472.9" y="107.0" font-size="64" letter-spacing="-0.1">eps&#39;(10‰)</text>
<line x1="396.2" y1="164.2" x2="543.5" y2="164.2" stroke="#008000" stroke-width="5.2"/>
<text x="557.6" y="186.0" font-size="64" letter-spacing="-0.1">eps&#39;(15‰)</text>
<line x1="854.0" y1="164.2" x2="1001.2" y2="164.2" stroke="#800080" stroke-width="5.2"/>
<text x="1015.9" y="186.0" font-size="64" letter-spacing="-0.1">eps&#39;(20‰)</text>
<line x1="1312.0" y1="164.2" x2="1459.3" y2="164.2" stroke="#ff00ff" stroke-width="5.2"/>
<text x="1472.9" y="186.0" font-size="64" letter-spacing="-0.1">eps&#39;(25‰)</text>
<line x1="396.2" y1="243.4" x2="543.5" y2="243.4" stroke="#000000" stroke-width="5.2" stroke-dasharray="15.5 11.2"/>
<text x="557.6" y="265.2" font-size="64" letter-spacing="-0.45">eps&quot;(DIW)</text>
<line x1="848.6" y1="243.4" x2="995.7" y2="243.4" stroke="#ff0000" stroke-width="5.2" stroke-dasharray="15.5 11.2"/>
<text x="1010.4" y="265.2" font-size="64" letter-spacing="-0.45">eps&quot;(5‰)</text>
<line x1="1302.2" y1="243.4" x2="1450.0" y2="243.4" stroke="#0000ff" stroke-width="5.2" stroke-dasharray="15.5 11.2"/>
<text x="1463.2" y="265.2" font-size="64" letter-spacing="-0.45">eps&quot;(10‰)</text>
<line x1="396.2" y1="322.5" x2="543.5" y2="322.5" stroke="#008000" stroke-width="5.2" stroke-dasharray="15.5 11.2"/>
<text x="557.6" y="344.3" font-size="64" letter-spacing="-0.45">cps&quot;(15‰)</text>
<line x1="848.6" y1="322.5" x2="995.7" y2="322.5" stroke="#800080" stroke-width="5.2" stroke-dasharray="15.5 11.2"/>
<text x="1010.4" y="344.3" font-size="64" letter-spacing="-0.45">cps&quot;(20‰)</text>
<line x1="1302.2" y1="322.5" x2="1450.0" y2="322.5" stroke="#ff00ff" stroke-width="5.2" stroke-dasharray="15.5 11.2"/>
<text x="1463.2" y="344.3" font-size="64" letter-spacing="-0.45">cps&quot;(25‰)</text>
</svg></body></html>
